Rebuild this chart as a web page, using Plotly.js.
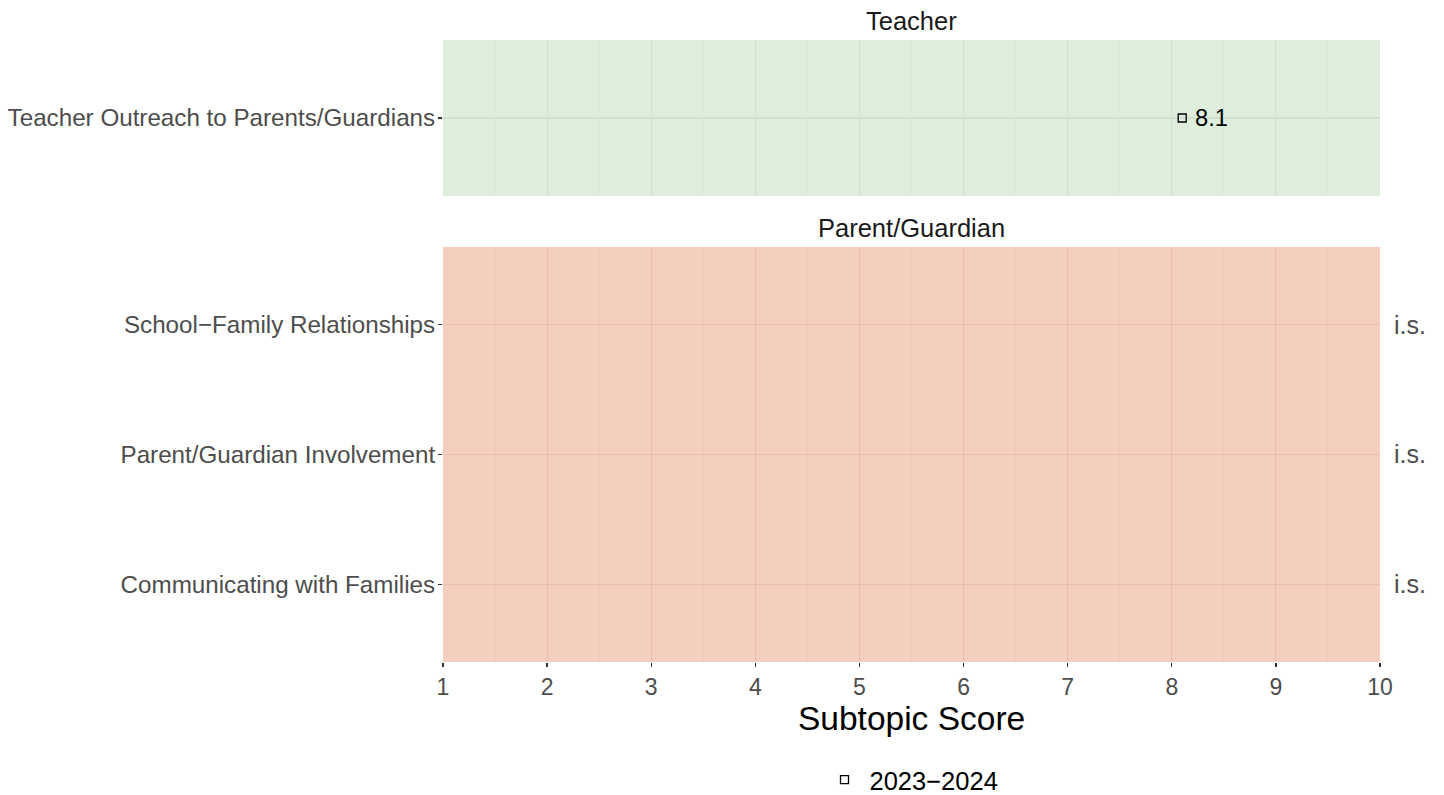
<!DOCTYPE html>
<html>
<head>
<meta charset="utf-8">
<script src="https://cdn.plot.ly/plotly-3.0.1.min.js"></script>
<style>html,body{margin:0;padding:0;background:#fff;}#chart{width:1444px;height:795px;}</style>
</head>
<body>
<div id="chart"></div>
<script>
// Data
const teacherSubtopics = ["Teacher Outreach to Parents/Guardians"];
const teacherScores = [8.1];
const teacherLabels = ["8.1"];
const parentSubtopics = ["Communicating with Families", "Parent/Guardian Involvement", "School\u2212Family Relationships"];
const parentScores = [null, null, null];
const parentLabels = ["i.s.", "i.s.", "i.s."];
const panelTitles = ["Teacher", "Parent/Guardian"];
const seriesName = "2023\u22122024";
const xTitle = "Subtopic Score";
const xTicks = [1, 2, 3, 4, 5, 6, 7, 8, 9, 10];

const FONT = "Liberation Sans, Arial, Helvetica, sans-serif";
const tickGrey = "#4d4d4d";
const H = 795;
const py = p => 1 - p / H; // pixel-from-top to paper y

const traces = [
  {
    x: teacherScores, y: teacherSubtopics, xaxis: "x2", yaxis: "y2",
    type: "scatter", mode: "markers", name: seriesName, showlegend: true,
    marker: {symbol: "square-open", size: 8, color: "#000", line: {width: 1.3, color: "#000"}},
    hoverinfo: "x+y"
  },
  {
    x: parentScores, y: parentSubtopics, xaxis: "x", yaxis: "y",
    type: "scatter", mode: "markers", showlegend: false,
    marker: {symbol: "square-open", size: 8, color: "#000"}, hoverinfo: "skip"
  }
];

const annotations = [
  {text: panelTitles[0], xref: "paper", yref: "paper", x: 0.5, y: py(21), showarrow: false,
   font: {size: 25.5, color: "#1a1a1a", family: FONT}, xanchor: "center", yanchor: "middle"},
  {text: panelTitles[1], xref: "paper", yref: "paper", x: 0.5, y: py(228), showarrow: false,
   font: {size: 25.5, color: "#1a1a1a", family: FONT}, xanchor: "center", yanchor: "middle"},
  {text: xTitle, xref: "paper", yref: "paper", x: 0.5, y: py(718), showarrow: false,
   font: {size: 33.5, color: "#000", family: FONT}, xanchor: "center", yanchor: "middle"}
];
teacherSubtopics.forEach((s, i) => {
  if (teacherScores[i] !== null) {
    annotations.push({text: teacherLabels[i], xref: "x2", yref: "y2", x: teacherScores[i], y: s,
      xshift: 11, showarrow: false, xanchor: "left", yanchor: "middle",
      font: {size: 23.7, color: "#000", family: FONT}});
  }
});
parentSubtopics.forEach((s, i) => {
  if (parentScores[i] === null) {
    annotations.push({text: parentLabels[i], xref: "paper", yref: "y", x: 1, xshift: 12, y: s,
      showarrow: false, xanchor: "left", yanchor: "middle",
      font: {size: 25, color: tickGrey, family: FONT}});
  }
});

const shapes = [
  {type: "rect", xref: "x2 domain", yref: "y2 domain", x0: 0, x1: 1, y0: 0, y1: 1,
   fillcolor: "#dfeddd", line: {width: 0}, layer: "below"},
  {type: "rect", xref: "x domain", yref: "y domain", x0: 0, x1: 1, y0: 0, y1: 1,
   fillcolor: "#f5cfbd", line: {width: 0}, layer: "below"}
];

const xCommon = {
  range: [1, 10], tickvals: xTicks, ticktext: xTicks.map(String),
  showgrid: true, gridwidth: 1, zeroline: false, showline: false, automargin: false
};

const layout = {
  width: 1444, height: H,
  margin: {l: 443, r: 64, t: 0, b: 0, autoexpand: false},
  paper_bgcolor: "#fff", plot_bgcolor: "rgba(0,0,0,0)",
  font: {family: FONT},
  showlegend: true,
  legend: {orientation: "h", x: 0.5, xanchor: "center", y: py(780), yanchor: "middle",
    itemwidth: 40,
    font: {size: 25.5, color: "#000", family: FONT}, bgcolor: "rgba(0,0,0,0)"},
  xaxis: Object.assign({}, xCommon, {
    anchor: "y", domain: [0, 1],
    gridcolor: "#e9bfac", minor: {dtick: 0.5, tick0: 1, showgrid: true, gridwidth: 0.8, gridcolor: "#eec7b5"},
    ticks: "outside", ticklen: 4, tickwidth: 1.3, tickcolor: "#333",
    tickfont: {size: 23, color: tickGrey, family: FONT}
  }),
  xaxis2: Object.assign({}, xCommon, {
    anchor: "y2", domain: [0, 1], matches: "x", showticklabels: false, ticks: "",
    gridcolor: "#d0e1ce", minor: {dtick: 0.5, tick0: 1, showgrid: true, gridwidth: 0.8, gridcolor: "#d7e7d5"}
  }),
  yaxis: {
    anchor: "x", domain: [py(662), py(247)], type: "category",
    categoryorder: "array", categoryarray: parentSubtopics, range: [-0.6, 2.6],
    showgrid: true, gridcolor: "#e9bfac", gridwidth: 1.2, zeroline: false,
    ticks: "outside", ticklen: 4, tickwidth: 1.3, tickcolor: "#333", ticklabelstandoff: -2,
    tickfont: {size: 24.2, color: tickGrey, family: FONT}, automargin: false
  },
  yaxis2: {
    anchor: "x2", domain: [py(196), py(40)], type: "category",
    categoryorder: "array", categoryarray: teacherSubtopics, range: [-0.6, 0.6],
    showgrid: true, gridcolor: "#d0e1ce", gridwidth: 1.2, zeroline: false,
    ticks: "outside", ticklen: 4, tickwidth: 1.3, tickcolor: "#333", ticklabelstandoff: -2,
    tickfont: {size: 24.2, color: tickGrey, family: FONT}, automargin: false
  },
  annotations: annotations,
  shapes: shapes
};

Plotly.newPlot("chart", traces, layout, {displayModeBar: false, staticPlot: true});
</script>
</body>
</html>
